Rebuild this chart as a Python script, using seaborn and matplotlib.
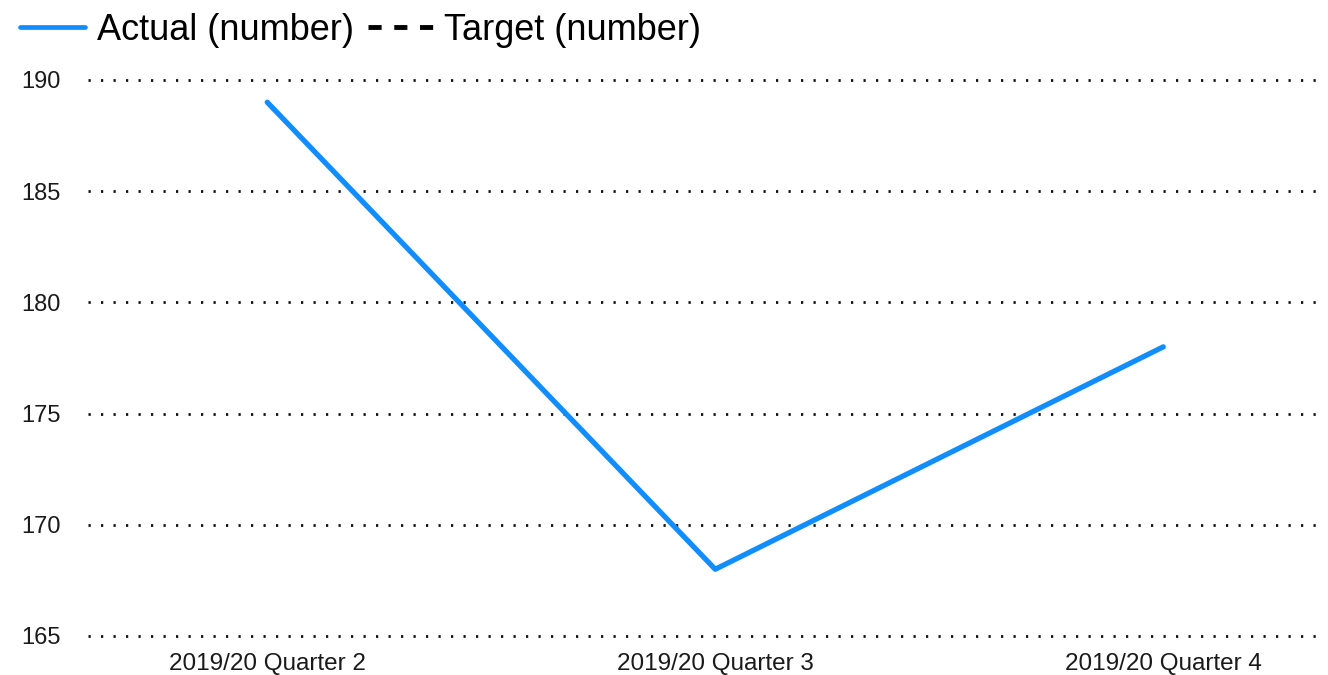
import pandas as pd
import numpy as np
import matplotlib
matplotlib.use("Agg")
import matplotlib.pyplot as plt
from matplotlib.lines import Line2D
import seaborn as sns

# chart data
quarters = ["2019/20 Quarter 2", "2019/20 Quarter 3", "2019/20 Quarter 4"]
actual = [189, 168, 178]
target = [np.nan, np.nan, np.nan]  # target series has no values shown
y_ticks = [165, 170, 175, 180, 185, 190]

sns.set_theme(style="white")
plt.rcParams['font.family'] = ['Liberation Sans', 'DejaVu Sans']

df = pd.DataFrame({"quarter": quarters, "actual": actual, "target": target})

fig = plt.figure(figsize=(13.28, 6.75), dpi=100)
ax = fig.add_axes([0.0663, 0.0578, 0.9277, 0.8237])

sns.lineplot(data=df, x="quarter", y="actual", ax=ax, color="#118DFF",
             linewidth=3.8, sort=False, solid_capstyle="round")
ax.plot(df["quarter"], df["target"], color="black", linestyle="--", linewidth=2.5)

ax.set_xlim(-0.4, 2.35)
ax.set_ylim(165, 190)
ax.set_yticks(y_ticks)
ax.set_xlabel("")
ax.set_ylabel("")
ax.grid(False)
for yv in y_ticks:
    ax.axhline(yv, color="#111111", linewidth=2.0, linestyle=(0, (0.8, 3.7)),
               zorder=0, clip_on=False)
for s in ax.spines.values():
    s.set_visible(False)
ax.tick_params(axis="y", length=0, pad=20, labelsize=17, labelcolor="#1a1a1a")
ax.tick_params(axis="x", length=0, pad=12, labelsize=17.5, labelcolor="#1a1a1a")

handles = [
    Line2D([], [], color="#118DFF", linewidth=3.4),
    Line2D([], [], color="black", linewidth=3.5, linestyle=(0, (2.7, 2.6))),
]
fig.legend(handles, ["Actual (number)", "Target (number)"], loc="center left",
           bbox_to_anchor=(0.015, 1 - 30 / 675), ncol=2, frameon=False, fontsize=26,
           handlelength=1.8, handletextpad=0.33, columnspacing=0.38,
           borderpad=0, borderaxespad=0, labelcolor="black")

fig.savefig("out.png", dpi=100)
